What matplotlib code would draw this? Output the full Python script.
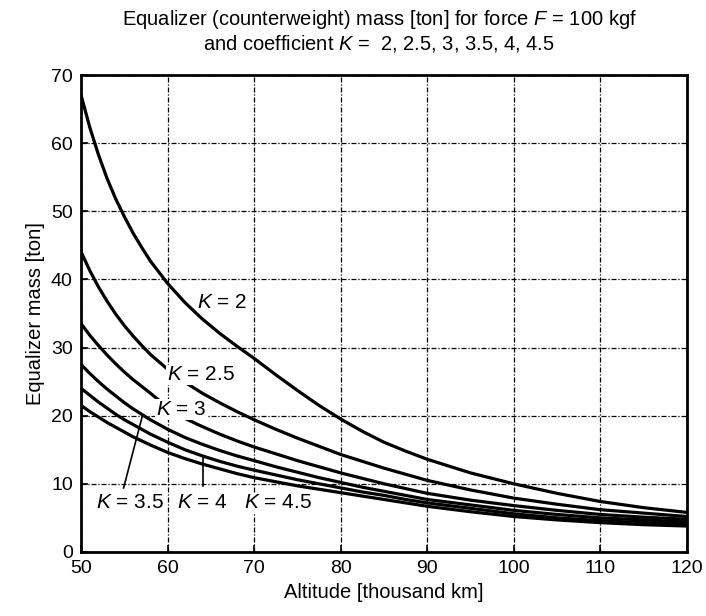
import numpy as np
import matplotlib
matplotlib.use("Agg")
import matplotlib.pyplot as plt

plt.rcParams['font.family'] = ['Liberation Sans', 'DejaVu Sans']
plt.rcParams['mathtext.fontset'] = 'custom'
plt.rcParams['mathtext.it'] = 'Liberation Sans:italic'
plt.rcParams['mathtext.rm'] = 'Liberation Sans'

#
# Data
#
altitude = [50, 51, 52, 53, 54, 55, 56, 57, 58, 60, 62, 64, 66, 68, 70,
            72.5, 75, 77.5, 80, 82.5, 85, 87.5, 90, 95, 100, 105, 110, 115, 120]

mass_k2 = [67, 62.3, 58.3, 54.8, 51.8, 49.2, 46.8, 44.7, 42.7, 39.4, 36.6, 34.2, 32.1, 30.2, 28.4,
           26.0, 23.7, 21.5, 19.5, 17.7, 16.1, 14.8, 13.6, 11.6, 10.0, 8.6, 7.4, 6.5, 5.8]
mass_k25 = [44, 41.3, 38.9, 36.8, 34.9, 33.2, 31.7, 30.3, 29.0, 26.8, 24.9, 23.3, 21.9, 20.6, 19.4,
            18.0, 16.7, 15.5, 14.3, 13.3, 12.3, 11.4, 10.5, 9.1, 7.9, 7.0, 6.2, 5.7, 5.2]
mass_k3 = [33.5, 31.8, 30.3, 28.9, 27.6, 26.4, 25.3, 24.3, 23.3, 21.2, 19.6, 18.4, 17.3, 16.3, 15.4,
           14.4, 13.4, 12.5, 11.6, 10.8, 10.0, 9.3, 8.6, 7.6, 6.8, 6.1, 5.5, 5.1, 4.8]
mass_k35 = [27.5, 26.2, 25.0, 23.9, 22.9, 21.9, 21.0, 20.2, 19.4, 18.0, 16.8, 15.8, 14.9, 14.1, 13.4,
            12.5, 11.7, 10.9, 10.2, 9.5, 8.9, 8.3, 7.7, 6.9, 6.1, 5.5, 5.0, 4.7, 4.4]
mass_k4 = [24, 23.0, 22.0, 21.1, 20.2, 19.4, 18.7, 18.0, 17.3, 16.1, 15.0, 14.1, 13.3, 12.6, 12.0,
           11.3, 10.6, 10.0, 9.4, 8.8, 8.3, 7.7, 7.2, 6.4, 5.6, 5.0, 4.6, 4.3, 4.1]
mass_k45 = [21.5, 20.6, 19.8, 19.0, 18.3, 17.6, 16.9, 16.3, 15.7, 14.6, 13.7, 12.9, 12.2, 11.5, 10.9,
            10.3, 9.7, 9.2, 8.7, 8.2, 7.7, 7.2, 6.7, 5.9, 5.2, 4.7, 4.3, 4.0, 3.8]

series = [mass_k2, mass_k25, mass_k3, mass_k35, mass_k4, mass_k45]

fig = plt.figure(figsize=(7.06, 6.16), dpi=100)
ax = fig.add_axes([0.115, 0.104, 0.858, 0.774])

for s in series:
    ax.plot(altitude, s, color='black', lw=2.3, zorder=3, solid_joinstyle='round')

ax.set_xlim(50, 120)
ax.set_ylim(0, 70)
ax.set_xticks(range(50, 121, 10))
ax.set_yticks(range(0, 71, 10))
ax.grid(True, color='black', lw=0.9, linestyle=(0, (4, 1.5, 1, 1.5)))
ax.tick_params(direction='in', length=5, width=1.2, labelsize=14, pad=6)
for sp in ax.spines.values():
    sp.set_linewidth(2)

ax.set_xlabel('Altitude [thousand km]', fontsize=14.5)
ax.set_ylabel('Equalizer mass [ton]', fontsize=14.5)
fig.text(0.537, 0.95, 'Equalizer (counterweight) mass [ton] for force $F$ = 100 kgf\n'
         'and coefficient $K$ =  2, 2.5, 3, 3.5, 4, 4.5',
         ha='center', va='center', fontsize=14.5, linespacing=1.15)

# curve labels
box = dict(facecolor='white', edgecolor='none', pad=0.5)
lbl = dict(fontsize=15, ha='center', va='center', zorder=5)
ax.text(66.3, 36.6, '$K$ = 2', **lbl)
ax.text(63.8, 26.0, '$K$ = 2.5', bbox=box, **lbl)
ax.text(61.5, 20.9, '$K$ = 3', bbox=box, **lbl)
ax.text(55.6, 7.2, '$K$ = 3.5', bbox=box, **lbl)
ax.text(64.0, 7.2, '$K$ = 4', bbox=box, **lbl)
ax.text(72.7, 7.2, '$K$ = 4.5', bbox=box, **lbl)

# pointer lines
ax.plot([54.9, 57.1], [9.4, np.interp(57.1, altitude, mass_k35)], color='black', lw=1.2, zorder=4)
ax.plot([64.1, 64.1], [9.7, np.interp(64.1, altitude, mass_k4)], color='black', lw=1.2, zorder=4)

plt.savefig('out.png', dpi=100)
plt.close()
